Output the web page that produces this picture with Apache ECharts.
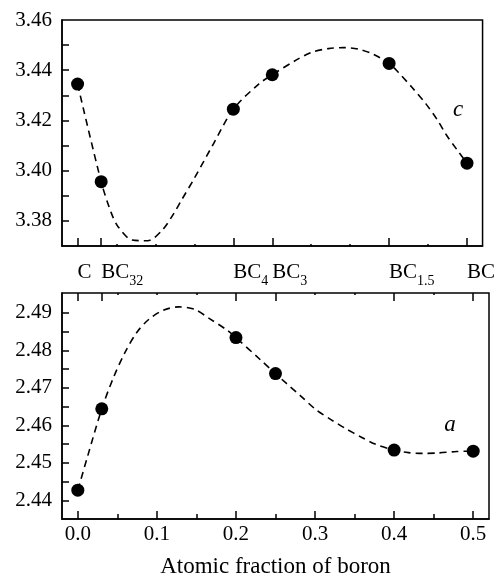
<!DOCTYPE html>
<html>
<head>
<meta charset="utf-8">
<title>Lattice parameters vs boron fraction</title>
<script src="https://cdn.jsdelivr.net/npm/echarts@6/dist/echarts.min.js"></script>
<style>
    html, body { margin: 0; padding: 0; background: #fff; }
    #main { width: 498px; height: 579px; }
</style>
</head>
<body>
<div id="main"></div>
<script type="text/javascript">
// compositions on the upper scale
var compBase = ['C', 'BC', 'BC', 'BC', 'BC', 'BC'];
var compSub = ['', '32', '4', '3', '1.5', ''];
var compX = [0, 0.0303, 0.2, 0.25, 0.4, 0.5];

// measured points
var cValues = [3.4345, 3.3956, 3.4245, 3.4382, 3.4427, 3.403];
var aValues = [2.4427, 2.4644, 2.4834, 2.4738, 2.4534, 2.4531];

// dashed fit curves
var cFit = [[0, 3.4345], [0.0303, 3.3956], [0.043, 3.3834], [0.052, 3.3777], [0.070, 3.3724],
    [0.090, 3.3721], [0.1095, 3.3766], [0.124, 3.3832], [0.1335, 3.3883], [0.15, 3.397],
    [0.175, 3.411], [0.2, 3.4245], [0.2326, 3.4345], [0.25, 3.4382], [0.281, 3.4441],
    [0.301, 3.4472], [0.322, 3.4486], [0.342, 3.449], [0.361, 3.4484], [0.380, 3.4463],
    [0.4, 3.4427], [0.4117, 3.4392], [0.4293, 3.4332], [0.4475, 3.4265], [0.4622, 3.4201],
    [0.4736, 3.4142], [0.4875, 3.4082], [0.5, 3.403]];
var aFit = [[0, 2.4427], [0.0122, 2.4516], [0.0303, 2.4644], [0.045, 2.4727], [0.06, 2.4796],
    [0.075, 2.4849], [0.09, 2.4883], [0.108, 2.4907], [0.128, 2.4916], [0.148, 2.4909],
    [0.167, 2.4884], [0.188, 2.4855], [0.2, 2.4834], [0.2313, 2.4774], [0.25, 2.4738],
    [0.2642, 2.4711], [0.282, 2.4678], [0.301, 2.4642], [0.321, 2.4614], [0.339, 2.4591],
    [0.358, 2.4569], [0.377, 2.4549], [0.4, 2.4534], [0.418, 2.4527], [0.436, 2.4525],
    [0.4546, 2.4526], [0.479, 2.453], [0.5, 2.4531]];

// ticks
var xMajor = [0, 0.1, 0.2, 0.3, 0.4, 0.5];
var xMinor = [0.05, 0.15, 0.25, 0.35, 0.45];
var xFine = [0.05, 0.1, 0.15, 0.3, 0.35, 0.45];
var cTicks = [3.38, 3.39, 3.40, 3.41, 3.42, 3.43, 3.44, 3.45];
var cLabels = [3.38, 3.40, 3.42, 3.44, 3.46];
var aTicks = [2.44, 2.445, 2.45, 2.455, 2.46, 2.465, 2.47, 2.475, 2.48, 2.485, 2.49];
var aLabels = [2.44, 2.45, 2.46, 2.47, 2.48, 2.49];

var FONT = 'Liberation Serif';
var XMIN = -0.02, XMAX = 0.52;

function pairs(xs, ys) {
    var out = [];
    for (var i = 0; i < xs.length; i++) out.push([xs[i], ys[i]]);
    return out;
}

function compLabel(val) {
    var best = 0;
    for (var i = 1; i < compX.length; i++) {
        if (Math.abs(compX[i] - val) < Math.abs(compX[best] - val)) best = i;
    }
    var s = '{b|' + compBase[best] + '}';
    if (compSub[best]) s += '{s|' + compSub[best] + '}';
    return s;
}

// a tick-only x axis
function tickAxis(grid, pos, values, len) {
    return {
        type: 'value', gridIndex: grid, position: pos, min: XMIN, max: XMAX,
        axisLine: { show: false, onZero: false },
        axisTick: { show: true, inside: true, length: len, customValues: values,
            lineStyle: { color: '#000', width: 1.5 } },
        axisLabel: { show: false },
        splitLine: { show: false }
    };
}

var myChart = echarts.init(document.getElementById('main'));
var option = {
    animation: false,
    grid: [
        { left: 62, top: 20, width: 427, height: 226, show: true, borderColor: '#000', borderWidth: 1.5 },
        { left: 62, top: 293, width: 427, height: 227, show: true, borderColor: '#000', borderWidth: 1.5 }
    ],
    xAxis: [
        {
            type: 'value', gridIndex: 0, position: 'bottom', min: XMIN, max: XMAX,
            axisLine: { show: true, onZero: false, lineStyle: { color: '#000', width: 1.5 } },
            axisTick: { show: true, inside: true, length: 8, customValues: compX,
                lineStyle: { color: '#000', width: 1.5 } },
            axisLabel: {
                show: true, customValues: compX, margin: 16, align: 'left',
                formatter: compLabel,
                rich: {
                    b: { fontFamily: FONT, fontSize: 21, color: '#000', verticalAlign: 'top', lineHeight: 21 },
                    s: { fontFamily: FONT, fontSize: 14, color: '#000', verticalAlign: 'top', lineHeight: 14, padding: [12, 0, 0, 0] }
                }
            },
            splitLine: { show: false }
        },
        tickAxis(0, 'bottom', xFine, 2),
        {
            type: 'value', gridIndex: 1, position: 'bottom', min: XMIN, max: XMAX,
            name: 'Atomic fraction of boron', nameLocation: 'middle', nameGap: 36,
            nameTextStyle: { fontFamily: FONT, fontSize: 23, color: '#000' },
            axisLine: { show: true, onZero: false, lineStyle: { color: '#000', width: 1.5 } },
            axisTick: { show: true, inside: true, length: 8, customValues: xMajor,
                lineStyle: { color: '#000', width: 1.5 } },
            axisLabel: {
                show: true, customValues: xMajor, margin: 5,
                fontFamily: FONT, fontSize: 21, color: '#000',
                formatter: function (v) { return v.toFixed(1); }
            },
            splitLine: { show: false }
        },
        tickAxis(1, 'bottom', xMinor, 5),
        tickAxis(1, 'top', compX, 8),
        tickAxis(1, 'top', xFine, 2)
    ],
    yAxis: [
        {
            type: 'value', gridIndex: 0, min: 3.37, max: 3.46,
            axisLine: { show: true, onZero: false, lineStyle: { color: '#000', width: 1.5 } },
            axisTick: { show: true, inside: true, length: 7, customValues: cTicks,
                lineStyle: { color: '#000', width: 1.5 } },
            axisLabel: {
                show: true, customValues: cLabels, margin: 10,
                fontFamily: FONT, fontSize: 21, color: '#000',
                formatter: function (v) { return v.toFixed(2); }
            },
            splitLine: { show: false }
        },
        {
            type: 'value', gridIndex: 1, min: 2.435, max: 2.4953,
            axisLine: { show: true, onZero: false, lineStyle: { color: '#000', width: 1.5 } },
            axisTick: { show: true, inside: true, length: 7, customValues: aTicks,
                lineStyle: { color: '#000', width: 1.5 } },
            axisLabel: {
                show: true, customValues: aLabels, margin: 10,
                fontFamily: FONT, fontSize: 21, color: '#000',
                formatter: function (v) { return v.toFixed(2); }
            },
            splitLine: { show: false }
        }
    ],
    series: [
        {
            name: 'c fit', type: 'line', xAxisIndex: 0, yAxisIndex: 0, data: cFit,
            smooth: 0.3, showSymbol: false, silent: true,
            lineStyle: { color: '#000', width: 1.6, type: [7, 5] }
        },
        {
            name: 'c', type: 'scatter', xAxisIndex: 0, yAxisIndex: 0,
            data: pairs(compX, cValues), symbolSize: 13, itemStyle: { color: '#000', opacity: 1 }
        },
        {
            name: 'a fit', type: 'line', xAxisIndex: 2, yAxisIndex: 1, data: aFit,
            smooth: 0.3, showSymbol: false, silent: true,
            lineStyle: { color: '#000', width: 1.6, type: [7, 5] }
        },
        {
            name: 'a', type: 'scatter', xAxisIndex: 2, yAxisIndex: 1,
            data: pairs(compX, aValues), symbolSize: 13, itemStyle: { color: '#000', opacity: 1 }
        }
    ],
    graphic: [
        { type: 'text', x: 458, y: 110, style: { text: 'c', fontFamily: FONT, fontStyle: 'italic',
            fontSize: 23, fill: '#000', align: 'center', verticalAlign: 'middle' } },
        { type: 'text', x: 450, y: 425, style: { text: 'a', fontFamily: FONT, fontStyle: 'italic',
            fontSize: 23, fill: '#000', align: 'center', verticalAlign: 'middle' } }
    ]
};
myChart.setOption(option);
</script>
</body>
</html>
